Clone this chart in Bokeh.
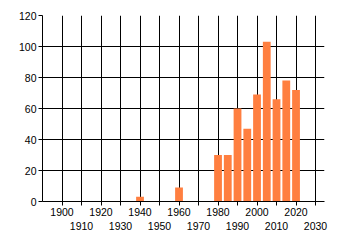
from bokeh.plotting import figure
from bokeh.models import LinearAxis, FixedTicker, Range1d, Grid
from bokeh.embed import file_html
from bokeh.resources import INLINE

years = [1940, 1960, 1980, 1985, 1990, 1995, 2000, 2005, 2010, 2015, 2020]
counts = [3, 9, 30, 30, 60, 47, 69, 103, 66, 78, 72]
y_ticks = [0, 20, 40, 60, 80, 100, 120]
x_ticks_all = list(range(1900, 2031, 10))
x_ticks_row1 = list(range(1900, 2021, 20))
x_ticks_row2 = list(range(1910, 2031, 20))

FONT = "Liberation Sans"
FS = "10.5px"

p = figure(width=340, height=245, output_backend="svg", toolbar_location=None,
           x_range=Range1d(1890, 2034.6), y_range=Range1d(0, 120),
           min_border_left=42, min_border_right=16, min_border_top=15, min_border_bottom=44,
           x_axis_location=None, y_axis_location=None)
p.outline_line_color = None
p.background_fill_color = "white"
p.border_fill_color = "white"

p.vbar(x=years, top=counts, width=4, color="#FF7F40", line_color=None)

yaxis = LinearAxis(ticker=FixedTicker(ticks=y_ticks))
yaxis.axis_line_color = "black"
yaxis.major_tick_line_color = "black"
yaxis.major_tick_out = 4
yaxis.major_tick_in = 0
yaxis.minor_tick_line_color = None
yaxis.major_label_text_font = FONT
yaxis.major_label_text_font_size = FS
yaxis.major_label_text_color = "black"
yaxis.major_label_standoff = 2
p.add_layout(yaxis, "left")

xaxis = LinearAxis(ticker=FixedTicker(ticks=x_ticks_all))
xaxis.major_label_overrides = {t: ("" if t in x_ticks_row2 else str(t)) for t in x_ticks_all}
xaxis.axis_line_color = "black"
xaxis.major_tick_line_color = "black"
xaxis.major_tick_out = 4
xaxis.major_tick_in = 0
xaxis.minor_tick_line_color = None
xaxis.major_label_text_font = FONT
xaxis.major_label_text_font_size = FS
xaxis.major_label_text_color = "black"
xaxis.major_label_standoff = 2
p.add_layout(xaxis, "below")

xaxis2 = LinearAxis(ticker=FixedTicker(ticks=x_ticks_row2))
xaxis2.axis_line_color = None
xaxis2.major_tick_line_color = None
xaxis2.minor_tick_line_color = None
xaxis2.major_tick_out = 0
xaxis2.major_tick_in = 0
xaxis2.major_label_text_font = FONT
xaxis2.major_label_text_font_size = FS
xaxis2.major_label_text_color = "black"
xaxis2.major_label_standoff = 3
p.add_layout(xaxis2, "below")

p.xgrid.visible = False
p.ygrid.visible = False
p.add_layout(Grid(dimension=0, ticker=FixedTicker(ticks=x_ticks_all), grid_line_color="black", grid_line_width=1))
p.add_layout(Grid(dimension=1, ticker=FixedTicker(ticks=y_ticks), grid_line_color="black", grid_line_width=1))

open("out.html", "w").write(file_html(p, INLINE))
